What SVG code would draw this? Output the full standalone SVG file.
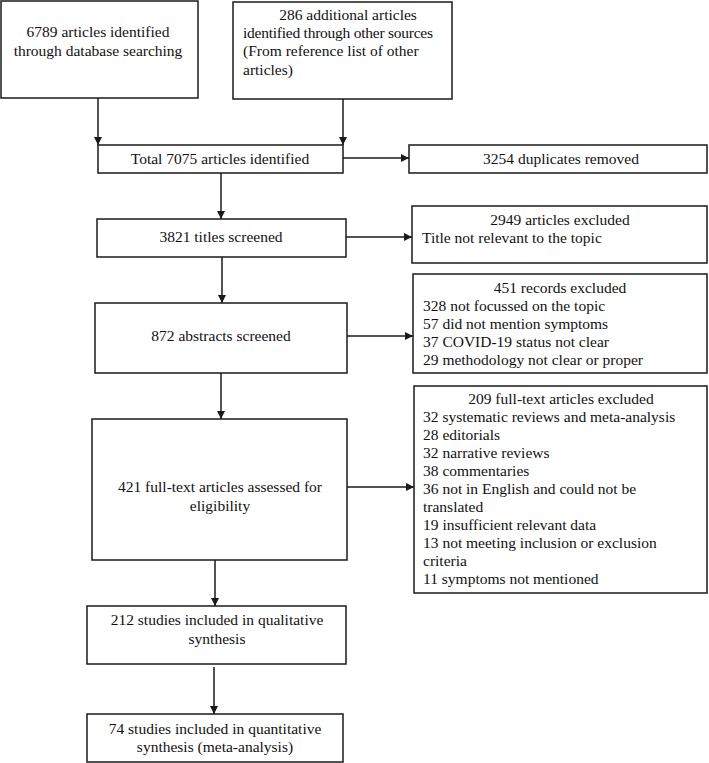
<svg xmlns="http://www.w3.org/2000/svg" width="709" height="763" viewBox="0 0 709 763">
<defs>
<style>
.box{fill:#fff;stroke:#1a1a1a;stroke-width:1.5}
.t{font-family:"Liberation Serif","Times New Roman",serif;font-size:15.5px;fill:#111}
.c{text-anchor:middle}
.ln{stroke:#1a1a1a;stroke-width:1.5;fill:none;marker-end:url(#ah)}
</style>
<marker id="ah" markerUnits="userSpaceOnUse" markerWidth="10" markerHeight="10" refX="8" refY="4" orient="auto">
<path d="M0,0 L8,4 L0,8 Z" fill="#1a1a1a"/>
</marker>
</defs>
<rect width="709" height="763" fill="#fff"/>
<g id="connectors">
<line class="ln" x1="98" y1="98" x2="98" y2="145"/>
<line class="ln" x1="343" y1="99" x2="343" y2="145"/>
<line class="ln" x1="343" y1="158" x2="409" y2="158"/>
<line class="ln" x1="221" y1="173" x2="221" y2="219"/>
<line class="ln" x1="346" y1="237" x2="412" y2="237"/>
<line class="ln" x1="222" y1="257" x2="222" y2="303"/>
<line class="ln" x1="347" y1="336" x2="413" y2="336"/>
<line class="ln" x1="221" y1="373" x2="221" y2="419"/>
<line class="ln" x1="347" y1="487" x2="414" y2="487"/>
<line class="ln" x1="215" y1="560" x2="215" y2="606"/>
<line class="ln" x1="214" y1="667" x2="214" y2="714"/>
</g>
<g id="db">
<rect class="box" x="1" y="1" width="197" height="97"/>
<text class="t c" x="98" y="37">6789 articles identified</text>
<text class="t c" x="98" y="56">through database searching</text>
</g>
<g id="other">
<rect class="box" x="233" y="2" width="219" height="97"/>
<text class="t c" x="348" y="20">286 additional articles</text>
<text class="t" x="243" y="38" textLength="190">identified through other sources</text>
<text class="t" x="243" y="56">(From reference list of other</text>
<text class="t" x="243" y="75">articles)</text>
</g>
<g id="total">
<rect class="box" x="98" y="145" width="245" height="28"/>
<text class="t c" x="220" y="164">Total 7075 articles identified</text>
</g>
<g id="dup">
<rect class="box" x="409" y="145" width="298" height="28"/>
<text class="t c" x="561" y="164">3254 duplicates removed</text>
</g>
<g id="titles">
<rect class="box" x="97" y="219" width="249" height="38"/>
<text class="t c" x="221" y="242">3821 titles screened</text>
</g>
<g id="titlesExcl">
<rect class="box" x="412" y="206" width="295" height="57"/>
<text class="t c" x="560" y="225">2949 articles excluded</text>
<text class="t" x="422" y="243">Title not relevant to the topic</text>
</g>
<g id="abstracts">
<rect class="box" x="95" y="303" width="252" height="70"/>
<text class="t c" x="221" y="341">872 abstracts screened</text>
</g>
<g id="absExcl">
<rect class="box" x="413" y="274" width="294" height="99"/>
<text class="t c" x="560" y="293">451 records excluded</text>
<text class="t" x="423" y="311">328 not focussed on the topic</text>
<text class="t" x="423" y="329">57 did not mention symptoms</text>
<text class="t" x="423" y="347">37 COVID-19 status not clear</text>
<text class="t" x="423" y="365">29 methodology not clear or proper</text>
</g>
<g id="fulltext">
<rect class="box" x="92" y="419" width="255" height="141"/>
<text class="t c" x="220" y="492">421 full-text articles assessed for</text>
<text class="t c" x="220" y="511">eligibility</text>
</g>
<g id="ftExcl">
<rect class="box" x="414" y="386" width="293" height="207"/>
<text class="t c" x="561" y="404">209 full-text articles excluded</text>
<text class="t" x="423" y="422">32 systematic reviews and meta-analysis</text>
<text class="t" x="423" y="440">28 editorials</text>
<text class="t" x="423" y="458">32 narrative reviews</text>
<text class="t" x="423" y="476">38 commentaries</text>
<text class="t" x="423" y="494">36 not in English and could not be</text>
<text class="t" x="423" y="512">translated</text>
<text class="t" x="423" y="530">19 insufficient relevant data</text>
<text class="t" x="423" y="548">13 not meeting inclusion or exclusion</text>
<text class="t" x="423" y="566">criteria</text>
<text class="t" x="423" y="584">11 symptoms not mentioned</text>
</g>
<g id="qual">
<rect class="box" x="87" y="606" width="259" height="58"/>
<text class="t c" x="217" y="625">212 studies included in qualitative</text>
<text class="t c" x="217" y="644">synthesis</text>
</g>
<g id="quant">
<rect class="box" x="87" y="714" width="256" height="48"/>
<text class="t c" x="215" y="734">74 studies included in quantitative</text>
<text class="t c" x="215" y="752">synthesis (meta-analysis)</text>
</g>
</svg>
